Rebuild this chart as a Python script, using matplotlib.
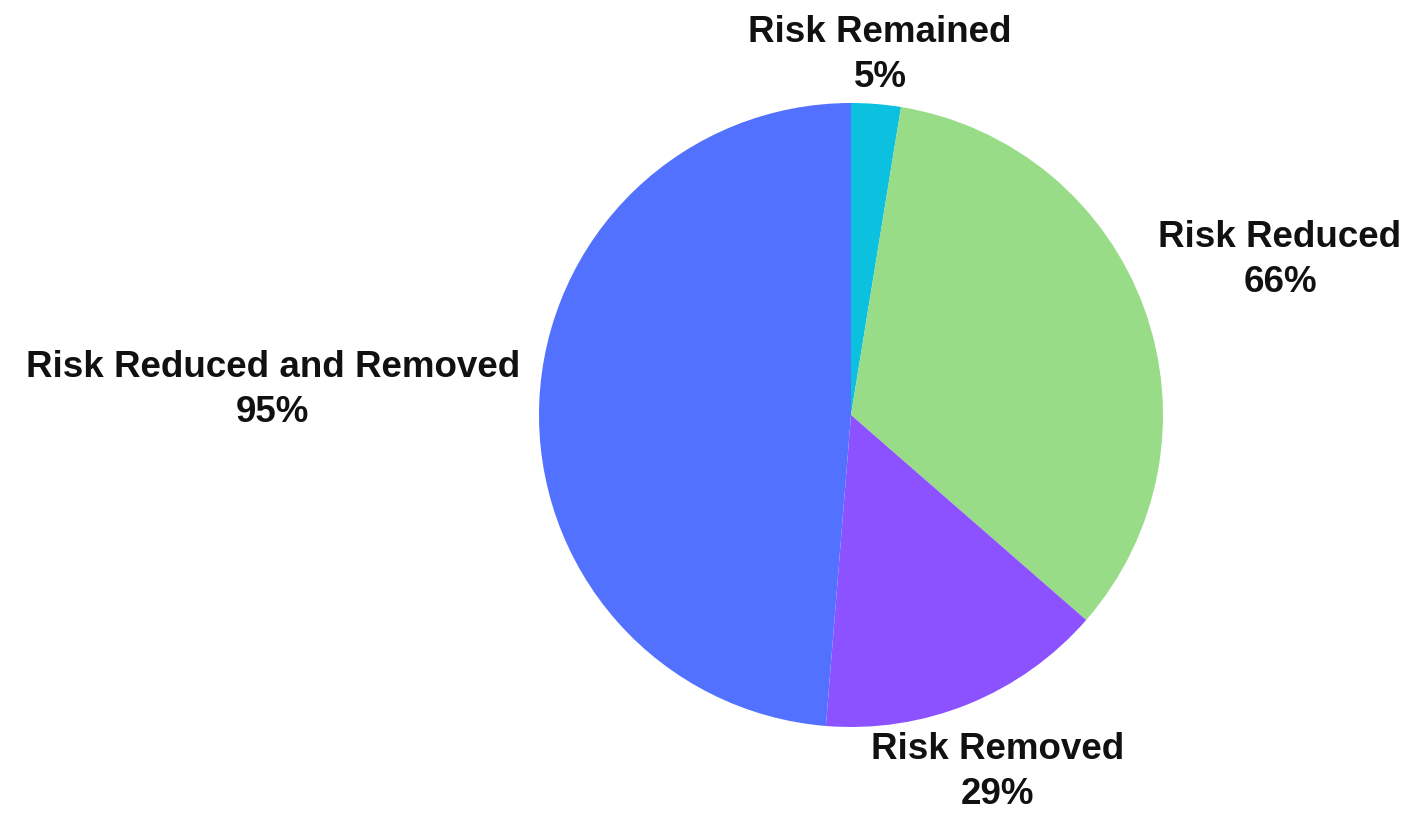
import matplotlib
matplotlib.use("Agg")
from matplotlib import pyplot as plt

categories = ["Risk Remained", "Risk Reduced", "Risk Removed", "Risk Reduced and Removed"]
values = [5, 66, 29, 95]
colors = ["#0CC0DF", "#98DC87", "#8C52FF", "#5271FF"]

# label centres in pie units (radius = 1)
label_pos = [(0.093, 1.154), (1.375, 0.497), (0.471, -1.144), (-1.853, 0.08)]

plt.rcParams['font.family'] = ['Liberation Sans', 'DejaVu Sans']

fig = plt.figure(figsize=(14.12, 8.13), dpi=100)
ax = fig.add_axes([0, 0, 1, 1])

ax.pie(values, colors=colors, startangle=90, counterclock=False,
       radius=1.0, wedgeprops=dict(linewidth=0))

for name, val, (x, y) in zip(categories, values, label_pos):
    ax.text(x, y, "%s\n%d%%" % (name, val), ha="center", va="center",
            fontsize=26.5, fontweight="bold", color="#111111", linespacing=1.38)

ax.set_xlim(-851 / 312, (1412 - 851) / 312)
ax.set_ylim(-(813 - 415) / 312, 415 / 312)
ax.set_aspect("auto")
ax.axis("off")

plt.savefig("out.png", dpi=100)
